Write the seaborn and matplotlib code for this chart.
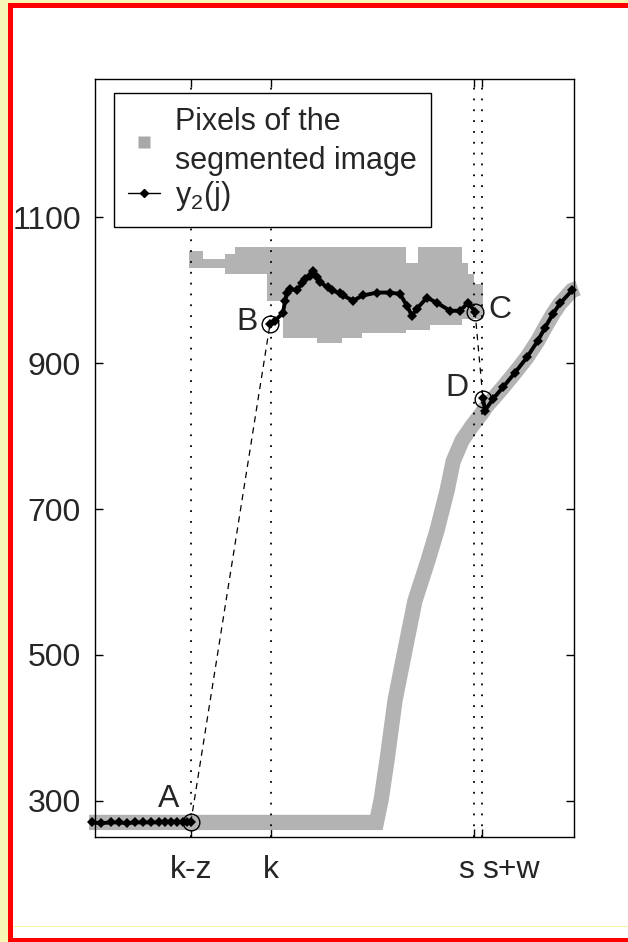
import numpy as np
import pandas as pd
import matplotlib.pyplot as plt
from matplotlib.patches import Rectangle
import seaborn as sns

# x-positions of the marked columns
k_z, k, s, s_w = 48, 88, 190, 194
xtick_pos = [k_z, k, s, s_w]
xtick_labels = ["k-z", "k", "s", "s+w"]
ytick_pos = [300, 500, 700, 900, 1100]

# segmented image: upper blob (step outline, lower/upper edge per column)
blob_x = [47, 54, 65, 70, 86, 94, 111, 124, 134, 156, 162, 168, 184, 187, 190, 194.5]
blob_hi = [1054, 1043, 1050, 1060, 1060, 1060, 1060, 1060, 1060, 1038, 1060, 1060, 1037, 1023, 1009, 995]
blob_lo = [1031, 1031, 1023, 1023, 985, 935, 928, 935, 941, 945, 945, 952, 961, 961, 961, 961]

# segmented image: lower band (centre line)
band_x = [-3, 141, 143.3, 146.3, 150.3, 155.3, 160.3, 166.8, 171.3, 176.4, 179.4, 183.9,
          188.9, 193.4, 196.4, 199.4, 204.4, 210.4, 216.4, 221.9, 225.5, 229.5, 233.0, 239.0, 242.0]
band_y = [270, 270, 300, 355, 437, 506, 574, 629, 670, 725, 765, 794,
          814, 830, 842, 851, 867, 887, 908, 931, 949, 968, 982, 1000, 1003]

# y2(j) segments
y2_left_x = [-1.5, 3, 8, 12, 16, 20, 24, 28, 32, 35, 38, 41, 44, 46, 48]
y2_left_y = [270, 269, 270, 270, 269, 270, 270, 270, 270, 271, 271, 271, 270, 270, 270]

y2_mid_x = [87.7, 90, 94.2, 95.2, 96.2, 97.7, 101.2, 103.7, 105.2, 107.7, 109.2, 111.2, 112.7,
            116.7, 118.7, 122.7, 124.2, 129.3, 134.3, 141.3, 147.8, 152.8, 156.3, 158.8,
            161.3, 166.3, 171.3, 177.9, 182.9, 186.9, 190.4]
y2_mid_y = [954, 958, 969, 986, 996, 1002, 1000, 1010, 1016, 1020, 1027, 1018, 1011,
            1004, 1000, 996, 993, 986, 993, 997, 997, 995, 979, 965,
            975, 990, 983, 972, 972, 983, 971]

y2_right_x = [194.4, 195.4, 199.4, 204.4, 210.4, 216.4, 221.9, 225.5, 229.5, 233.0, 239.0]
y2_right_y = [853, 835, 851, 867, 887, 908, 931, 949, 968, 982, 1000]

# marked points A, B, C, D
pt_names = ["A", "B", "C", "D"]
pt_x = [48, 87.7, 190.4, 194.4]
pt_y = [270, 954, 971, 851]
lbl_x = [37, 76, 203, 181.4]
lbl_y = [302, 956, 973, 866]

GRAY = "#b3b3b3"

sns.set_theme(style="white")
plt.rcParams["font.family"] = ["Liberation Sans", "DejaVu Sans"]
plt.rcParams["mathtext.fontset"] = "custom"
plt.rcParams["mathtext.rm"] = "Liberation Sans"
plt.rcParams["mathtext.it"] = "Liberation Sans"
FS = 23

fig = plt.figure(figsize=(6.28, 9.42), dpi=100, facecolor="white")
ax = fig.add_axes([95 / 628, 1 - 837 / 942, 479 / 628, 758 / 942])

# frame decoration of the original slide
def frame_rect(x, y, w, h, c):
    fig.patches.append(Rectangle((x / 628, y / 942), w / 628, h / 942,
                                 transform=fig.transFigure, facecolor=c,
                                 lw=0, zorder=-5))

frame_rect(0, 0, 8, 942, "#f7f7b5")
frame_rect(0, 939, 628, 3, "#f7f7b5")
frame_rect(8, 0, 5, 939, "red")
frame_rect(8, 934, 620, 5, "red")
frame_rect(8, 0, 620, 4, "red")
frame_rect(13, 15, 615, 1.5, "#f5f5a0")

# gray pixels
ax.fill_between(blob_x, blob_lo, blob_hi, step="post", color=GRAY, lw=0, zorder=1)
ax.plot(band_x, band_y, color=GRAY, lw=11, solid_capstyle="butt",
        solid_joinstyle="miter", clip_on=False, zorder=1)

# dotted verticals
for xv in xtick_pos:
    ax.axvline(xv, color="black", ls=(0, (1, 5)), lw=1.3, zorder=2)

# dashed jumps A->B and C->D
ax.plot([pt_x[0], pt_x[1]], [pt_y[0], pt_y[1]], color="black", lw=0.9,
        dashes=(5, 4), zorder=3)
ax.plot([pt_x[2], pt_x[3]], [pt_y[2], pt_y[3]], color="black", lw=0.9,
        dashes=(5, 4), zorder=3)

# y2(j)
for xs, ys in [(y2_left_x, y2_left_y), (y2_mid_x, y2_mid_y), (y2_right_x, y2_right_y)]:
    df = pd.DataFrame({"j": xs, "y": ys})
    sns.lineplot(data=df, x="j", y="y", sort=False, color="black", lw=2.8,
                 marker="D", markersize=5, markeredgewidth=0, ax=ax, zorder=4,
                 clip_on=False)

# circles
ax.plot(pt_x, pt_y, ls="none", marker="o", ms=12, mfc="none", mec="black",
        mew=1, zorder=5, clip_on=False)
for name, tx, ty in zip(pt_names, lbl_x, lbl_y):
    ax.text(tx, ty, name, fontsize=FS, ha="center", va="center", zorder=6)

ax.set_xlim(0, 240)
ax.set_ylim(250, 1290)
ax.set_xticks(xtick_pos)
ax.set_xticklabels(xtick_labels, fontsize=FS)
ax.set_yticks(ytick_pos)
ax.set_yticklabels([str(v) for v in ytick_pos], fontsize=FS)
xl = ax.get_xticklabels()
xl[2].set_ha("right")
xl[3].set_ha("left")
ax.tick_params(direction="in", length=6, width=1, color="black",
               top=True, right=True, bottom=True, left=True)
ax.tick_params(axis="x", pad=13)
ax.tick_params(axis="y", pad=10)
ax.set_xlabel("")
ax.set_ylabel("")
for sp in ax.spines.values():
    sp.set_color("black")
    sp.set_linewidth(1)

# legend
h1 = plt.Line2D([], [], ls="none", marker="s", ms=9, mfc="#a8a8a8", mec="none")
h2 = plt.Line2D([], [], color="black", lw=1, marker="D", ms=4)
leg = ax.legend([h1, h2], ["Pixels of the\nsegmented image", r"y$_2$(j)"],
                loc="upper left", bbox_to_anchor=(19 / 479, 744 / 758),
                borderaxespad=0, fancybox=False, framealpha=1, edgecolor="black",
                fontsize=22, handlelength=1.05, handletextpad=0.5,
                borderpad=0.45, labelspacing=0.1)
leg.get_frame().set_linewidth(1)
for t in leg.get_texts():
    t.set_linespacing(1.4)

fig.savefig("out.png", dpi=100, facecolor="white")
